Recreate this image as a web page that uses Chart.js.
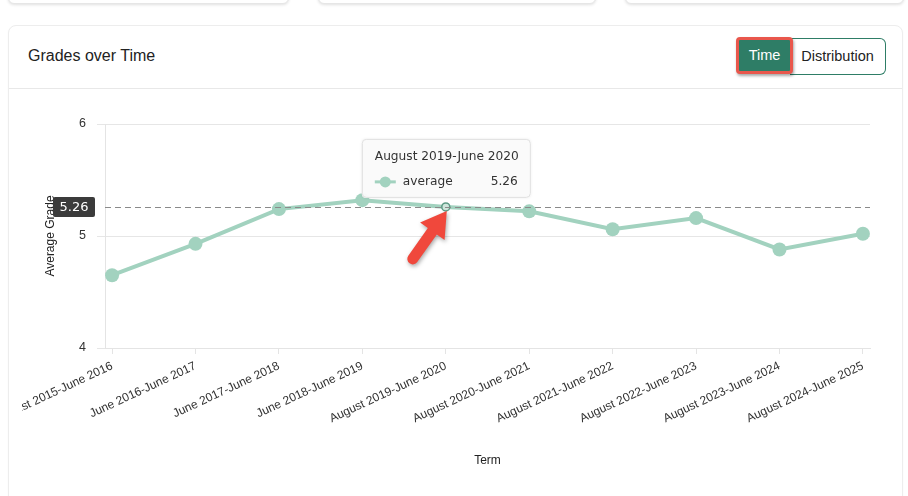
<!DOCTYPE html>
<html>
<head>
<meta charset="utf-8">
<script src="https://cdn.jsdelivr.net/npm/chart.js@4.4.1/dist/chart.umd.min.js"></script>
<style>
  html, body { margin:0; padding:0; background:#ffffff; width:908px; height:496px; overflow:hidden; font-family:"Liberation Sans", Arial, sans-serif; }
  .topcard { position:absolute; top:-12px; height:14px; background:#fff; border:1px solid #e6e6e6; border-radius:6px; box-shadow:0 1px 3px rgba(0,0,0,0.12); }
  .card { position:absolute; left:8px; top:25px; width:893px; height:490px; background:#fff; border:1px solid #ededed; border-radius:8px; box-shadow:0 1px 2px rgba(0,0,0,0.04); }
  .header { position:absolute; left:0; top:0; width:893px; height:62px; border-bottom:1px solid #e8e8e8; }
  .title { position:absolute; left:19px; top:21px; font-size:16px; color:#222; }
  .btns { position:absolute; left:727px; top:11px; height:37px; }
  .btn-time { position:absolute; left:0; top:0; width:51px; height:31px; background:#2e7d66; color:#fff; font-size:14.5px; line-height:31px; text-align:center; border:3px solid #e9574c; border-radius:4px; box-shadow:1px 2px 3px rgba(0,0,0,0.35); z-index:2; }
  .btn-dist { position:absolute; left:54px; top:1px; width:95px; height:35px; border:1px solid #2e7d66; border-left:none; border-radius:0 6px 6px 0; color:#222; font-size:14.5px; line-height:35px; text-align:center; }
  #wrap { position:absolute; left:22px; top:92px; width:872px; height:402px; }
</style>
</head>
<body>
<div class="topcard" style="left:8px;width:279px;"></div>
<div class="topcard" style="left:318px;width:276px;"></div>
<div class="topcard" style="left:625px;width:277px;"></div>
<div class="card">
  <div class="header">
    <div class="title">Grades over Time</div>
    <div class="btns">
      <div class="btn-dist">Distribution</div>
      <div class="btn-time">Time</div>
    </div>
  </div>
</div>
<div id="wrap"><canvas id="c" width="872" height="402"></canvas></div>
<script>
// ---- data ----
const terms = [
  'August 2015-June 2016','June 2016-June 2017','June 2017-June 2018','June 2018-June 2019',
  'August 2019-June 2020','August 2020-June 2021','August 2021-June 2022','August 2022-June 2023',
  'August 2023-June 2024','August 2024-June 2025'
];
const averages = [4.65, 4.93, 5.24, 5.32, 5.26, 5.22, 5.06, 5.16, 4.88, 5.02];
const yTicks = [4, 5, 6];
const referenceValue = 5.26;
const seriesName = 'average';
const activeIndex = 4;

const lineColor = '#a2d2bf';

const points = averages.map((v, i) => ({ x: i, y: v }));

const refLinePlugin = {
  id: 'refLine',
  afterDatasetsDraw(chart) {
    const { ctx, chartArea, scales } = chart;
    const y = scales.y.getPixelForValue(referenceValue);
    ctx.save();
    ctx.strokeStyle = '#8a8a8a';
    ctx.lineWidth = 1;
    ctx.setLineDash([6, 4]);
    ctx.beginPath();
    ctx.moveTo(chartArea.left, Math.round(y) + 0.5);
    ctx.lineTo(chartArea.right, Math.round(y) + 0.5);
    ctx.stroke();
    ctx.setLineDash([]);
    const bw = 42, bh = 20;
    const bx = chartArea.left - 10 - bw;
    const by = y - bh / 2;
    ctx.fillStyle = '#3b3b3b';
    ctx.beginPath();
    ctx.roundRect(bx, by, bw, bh, 2);
    ctx.fill();
    ctx.fillStyle = '#ffffff';
    ctx.font = '13px "DejaVu Sans"';
    ctx.textAlign = 'center';
    ctx.textBaseline = 'middle';
    ctx.fillText(referenceValue.toFixed(2), bx + bw / 2, y + 1);
    ctx.restore();
  }
};

const overlayPlugin = {
  id: 'overlay',
  afterDraw(chart) {
    const { ctx, scales } = chart;
    const px = scales.x.getPixelForValue(activeIndex);
    const py = scales.y.getPixelForValue(averages[activeIndex]);
    ctx.save();
    const bl = px - 84, bt = py - 68, bw = 169, bh = 59;
    ctx.shadowColor = 'rgba(0,0,0,0.08)';
    ctx.shadowBlur = 3;
    ctx.fillStyle = 'rgba(250,250,250,0.97)';
    ctx.beginPath();
    ctx.roundRect(bl, bt, bw, bh, 4);
    ctx.fill();
    ctx.shadowColor = 'transparent';
    ctx.strokeStyle = '#e0e0e0';
    ctx.lineWidth = 1;
    ctx.beginPath();
    ctx.roundRect(bl + 0.5, bt + 0.5, bw - 1, bh - 1, 4);
    ctx.stroke();
    ctx.fillStyle = '#333';
    ctx.font = '12.2px "DejaVu Sans"';
    ctx.textBaseline = 'middle';
    ctx.textAlign = 'left';
    ctx.fillText(terms[activeIndex], bl + 13, bt + 18);
    const iy = bt + 43;
    ctx.strokeStyle = lineColor;
    ctx.lineWidth = 3;
    ctx.beginPath();
    ctx.moveTo(bl + 13, iy);
    ctx.lineTo(bl + 34, iy);
    ctx.stroke();
    ctx.fillStyle = lineColor;
    ctx.beginPath();
    ctx.arc(bl + 23.5, iy, 5.5, 0, Math.PI * 2);
    ctx.fill();
    ctx.fillStyle = '#333';
    ctx.fillText(seriesName, bl + 41, iy);
    ctx.textAlign = 'right';
    ctx.fillText(averages[activeIndex].toFixed(2), bl + bw - 13, iy);

    // red arrow annotation
    const tipX = px + 1, tipY = py + 4;
    const tailX = px - 33, tailY = py + 52;
    const dx = tipX - tailX, dy = tipY - tailY;
    const L = Math.hypot(dx, dy);
    const ux = dx / L, uy = dy / L;
    const nx = -uy, ny = ux;
    const headLen = 25, headHalf = 15, shaftHalf = 5.5;
    const hbx = tipX - ux * headLen, hby = tipY - uy * headLen;
    ctx.shadowColor = 'rgba(0,0,0,0.35)';
    ctx.shadowBlur = 4;
    ctx.shadowOffsetX = 1;
    ctx.shadowOffsetY = 2;
    ctx.fillStyle = '#f0483c';
    ctx.beginPath();
    ctx.moveTo(tipX, tipY);
    ctx.lineTo(hbx + nx * headHalf, hby + ny * headHalf);
    ctx.lineTo(hbx + nx * shaftHalf, hby + ny * shaftHalf);
    ctx.lineTo(tailX + nx * shaftHalf, tailY + ny * shaftHalf);
    ctx.arc(tailX, tailY, shaftHalf, Math.atan2(ny, nx), Math.atan2(-ny, -nx), false);
    ctx.lineTo(hbx - nx * shaftHalf, hby - ny * shaftHalf);
    ctx.lineTo(hbx - nx * headHalf, hby - ny * headHalf);
    ctx.closePath();
    ctx.fill();
    ctx.restore();
  }
};

const fam = '"Liberation Sans", Arial, sans-serif';

new Chart(document.getElementById('c'), {
  type: 'line',
  data: {
    datasets: [{
      label: seriesName,
      data: points,
      borderColor: lineColor,
      backgroundColor: lineColor,
      borderWidth: 4,
      tension: 0,
      pointRadius: (c) => c.dataIndex === activeIndex ? 4 : 7,
      pointBackgroundColor: (c) => c.dataIndex === activeIndex ? '#cfe6dc' : lineColor,
      pointBorderColor: (c) => c.dataIndex === activeIndex ? '#5d9984' : lineColor,
      pointBorderWidth: (c) => c.dataIndex === activeIndex ? 1.5 : 0,
    }]
  },
  options: {
    responsive: false,
    animation: false,
    devicePixelRatio: 1,
    layout: { padding: { top: 32, right: 24, left: 0, bottom: 0 } },
    plugins: { legend: { display: false }, tooltip: { enabled: false } },
    scales: {
      x: {
        type: 'linear',
        min: -0.085,
        max: terms.length - 1 + 0.085,
        afterBuildTicks: (s) => { s.ticks = terms.map((_, i) => ({ value: i })); },
        afterFit: (s) => { s.height = 146; s.paddingLeft = 0; s.paddingRight = 0; },
        ticks: {
          callback: (v) => terms[v],
          minRotation: 25, maxRotation: 25,
          autoSkip: false,
          color: '#333',
          font: { family: fam, size: 12 },
          padding: 5
        },
        grid: { display: true, drawOnChartArea: false, color: '#e4e4e4', tickLength: 6 },
        border: { color: '#e4e4e4' },
        title: { display: true, text: 'Term', color: '#222', font: { family: fam, size: 12, weight: '500' }, padding: { top: 4, bottom: 26 } }
      },
      y: {
        min: yTicks[0],
        max: yTicks[yTicks.length - 1],
        afterBuildTicks: (s) => { s.ticks = yTicks.map(v => ({ value: v })); },
        afterFit: (s) => { s.width = 83; },
        ticks: { color: '#333', font: { family: fam, size: 12.5 }, padding: 11 },
        grid: { color: '#e6e6e6', tickLength: 8 },
        border: { color: '#e4e4e4' },
        title: { display: true, text: 'Average Grade', color: '#222', font: { family: fam, size: 12 }, padding: { top: 21, bottom: 0 } }
      }
    }
  },
  plugins: [refLinePlugin, overlayPlugin]
});
</script>
</body>
</html>
